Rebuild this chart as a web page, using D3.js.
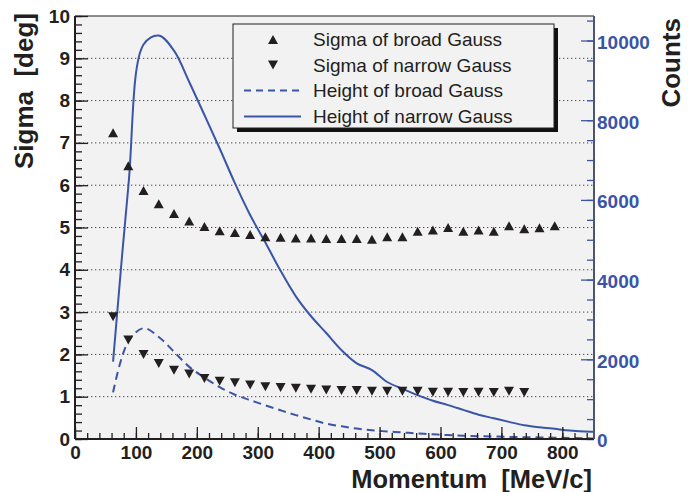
<!DOCTYPE html>
<html><head><meta charset="utf-8">
<script src="https://cdn.jsdelivr.net/npm/d3@7"></script>
<style>
body{margin:0;background:#fff}
svg{display:block}
text{font-family:"Liberation Sans",Arial,Helvetica,sans-serif}
</style>
</head><body><svg id="c" width="688" height="492"></svg>
<script>
// ---- data ----
const momentum = [62.5, 87.5, 112.5, 137.5, 162.5, 187.5, 212.5, 237.5, 262.5, 287.5,
  312.5, 337.5, 362.5, 387.5, 412.5, 437.5, 462.5, 487.5, 512.5, 537.5,
  562.5, 587.5, 612.5, 637.5, 662.5, 687.5, 712.5, 737.5, 762.5, 787.5,
  812.5, 837.5, 862.5];
const sigmaBroad = [7.24, 6.46, 5.87, 5.56, 5.33, 5.15, 5.02, 4.92, 4.88, 4.83,
  4.78, 4.77, 4.75, 4.75, 4.74, 4.74, 4.74, 4.72, 4.78, 4.78,
  4.91, 4.94, 5.00, 4.91, 4.94, 4.91, 5.04, 4.97, 4.99, 5.04];
const sigmaNarrow = [2.89, 2.34, 2.00, 1.79, 1.63, 1.54, 1.43, 1.37, 1.33, 1.28,
  1.24, 1.22, 1.20, 1.18, 1.16, 1.15, 1.15, 1.13, 1.13, 1.13,
  1.13, 1.11, 1.11, 1.10, 1.11, 1.10, 1.13, 1.10];
const heightBroad = [1170, 2450, 2780, 2560, 2190, 1810, 1540, 1300, 1110, 975,
  845, 720, 600, 490, 385, 320, 262, 217, 190, 165,
  140, 119, 98, 80, 70, 62, 53, 46, 40, 33,
  26, 17, 12];
const heightNarrow = [1940, 6330, 9900, 10125, 9745, 8960, 8130, 7290, 6420, 5620,
  4930, 4220, 3580, 3080, 2660, 2230, 1900, 1730, 1430, 1260,
  1100, 960, 850, 730, 610, 520, 430, 345, 295, 255,
  215, 190, 172];
const sigmaTicks = [0,1,2,3,4,5,6,7,8,9,10];
const momentumTicks = [0,100,200,300,400,500,600,700,800];
const countTicks = [0,2000,4000,6000,8000,10000];
const legendLabels = ["Sigma of broad Gauss","Sigma of narrow Gauss","Height of broad Gauss","Height of narrow Gauss"];

// ---- layout ----
const L=75, R=594, T=16, B=439;
const BLUE="#3a55a5", INK="#231f20", BG="#f2f2f2";
const x = d3.scaleLinear().domain([0,852]).range([L,R]);
const yS = d3.scaleLinear().domain([0,10]).range([B,T]);
const yC = d3.scaleLinear().domain([0,10615]).range([B,T]);

const svg = d3.select("#c");
svg.append("rect").attr("x",L).attr("y",T).attr("width",R-L).attr("height",B-T).attr("fill",BG);

// grid
svg.append("g").selectAll("line").data(sigmaTicks.filter(d=>d>0&&d<10)).join("line")
  .attr("x1",L).attr("x2",R).attr("y1",d=>yS(d)).attr("y2",d=>yS(d))
  .attr("stroke","#444").attr("stroke-width",1).attr("stroke-dasharray","1.3,2.7");

// clip
svg.append("clipPath").attr("id","pc").append("rect").attr("x",L).attr("y",T).attr("width",R-L).attr("height",B-T);

// curves
const lineC = d3.line().x((d,i)=>x(momentum[i])).y(d=>yC(d)).curve(d3.curveCatmullRom.alpha(0.5));
svg.append("path").attr("clip-path","url(#pc)").attr("d",lineC(heightBroad))
  .attr("fill","none").attr("stroke",BLUE).attr("stroke-width",2).attr("stroke-dasharray","8,5");
svg.append("path").attr("clip-path","url(#pc)").attr("d",lineC(heightNarrow))
  .attr("fill","none").attr("stroke",BLUE).attr("stroke-width",2);

// markers
const triUp = {draw(c){c.moveTo(0,-4.6);c.lineTo(5,4.4);c.lineTo(-5,4.4);c.closePath();}};
const triDn = {draw(c){c.moveTo(0,4.6);c.lineTo(5,-4.4);c.lineTo(-5,-4.4);c.closePath();}};
svg.append("g").selectAll("path").data(sigmaBroad).join("path")
  .attr("d",d3.symbol().type(triUp)()).attr("fill",INK)
  .attr("transform",(d,i)=>`translate(${x(momentum[i])},${yS(d)})`);
svg.append("g").selectAll("path").data(sigmaNarrow).join("path")
  .attr("d",d3.symbol().type(triDn)()).attr("fill",INK)
  .attr("transform",(d,i)=>`translate(${x(momentum[i])},${yS(d)})`);

// axes
function style(g,color){
  g.select(".domain").remove();
  g.selectAll("line").attr("stroke",color).attr("stroke-width",1.3);
  g.selectAll("text").attr("fill",color).attr("font-size",19).attr("font-weight","bold");
}
const minorS = d3.range(0,10.001,0.2);
svg.append("g").attr("transform",`translate(${L},0)`)
  .call(d3.axisLeft(yS).tickValues(minorS).tickSizeInner(-7).tickSizeOuter(0).tickFormat(""))
  .call(g=>style(g,INK));
svg.append("g").attr("transform",`translate(${L},0)`)
  .call(d3.axisLeft(yS).tickValues(sigmaTicks).tickSizeInner(-13).tickSizeOuter(0).tickPadding(5).tickFormat(d3.format("d")))
  .call(g=>style(g,INK));

const minorX = d3.range(0,841,20);
svg.append("g").attr("transform",`translate(0,${B})`)
  .call(d3.axisBottom(x).tickValues(minorX).tickSizeInner(-6).tickSizeOuter(0).tickFormat(""))
  .call(g=>style(g,INK));
svg.append("g").attr("transform",`translate(0,${B})`)
  .call(d3.axisBottom(x).tickValues(momentumTicks).tickSizeInner(-12).tickSizeOuter(0).tickPadding(7).tickFormat(d3.format("d")))
  .call(g=>style(g,INK));

const minorC = d3.range(0,10501,500);
svg.append("g").attr("transform",`translate(${R},0)`)
  .call(d3.axisRight(yC).tickValues(minorC).tickSizeInner(-7).tickSizeOuter(0).tickFormat(""))
  .call(g=>style(g,BLUE));
svg.append("g").attr("transform",`translate(${R},0)`)
  .call(d3.axisRight(yC).tickValues(countTicks).tickSizeInner(-13).tickSizeOuter(0).tickPadding(3).tickFormat(d3.format("d")))
  .call(g=>style(g,BLUE))
  .call(g=>g.selectAll("text").attr("dy","0.42em"));

// frame
svg.append("line").attr("x1",L).attr("x2",R).attr("y1",T).attr("y2",T).attr("stroke",INK).attr("stroke-width",1.2);
svg.append("line").attr("x1",L).attr("x2",L).attr("y1",T).attr("y2",B).attr("stroke",INK).attr("stroke-width",2);
svg.append("line").attr("x1",L).attr("x2",R).attr("y1",B).attr("y2",B).attr("stroke",INK).attr("stroke-width",2);
svg.append("line").attr("x1",R).attr("x2",R).attr("y1",T).attr("y2",B).attr("stroke","#4d5670").attr("stroke-width",2);

// axis titles
svg.append("text").attr("transform","translate(33,13) rotate(-90)").attr("text-anchor","end")
  .attr("font-size",26).attr("font-weight","bold").attr("fill",INK).attr("xml:space","preserve").text("Sigma  [deg]");
svg.append("text").attr("transform","translate(680,18) rotate(-90)").attr("text-anchor","end")
  .attr("font-size",26).attr("font-weight","bold").attr("fill",INK).text("Counts");
svg.append("text").attr("x",592).attr("y",488).attr("text-anchor","end")
  .attr("font-size",25.5).attr("font-weight","bold").attr("fill",INK).attr("xml:space","preserve").text("Momentum  [MeV/c]");

// legend
const lg = svg.append("g");
lg.append("rect").attr("x",237).attr("y",28).attr("width",321).attr("height",104).attr("fill","#111");
lg.append("rect").attr("x",233).attr("y",24).attr("width",321).attr("height",104).attr("fill",BG).attr("stroke",INK).attr("stroke-width",1);
const rowY = [39.5, 65, 90.5, 116.5];
lg.selectAll("text").data(legendLabels).join("text")
  .attr("x",313).attr("y",(d,i)=>rowY[i]+6.8).attr("font-size",19).attr("fill",INK).text(d=>d);
lg.append("path").attr("d",d3.symbol().type(triUp)()).attr("fill",INK).attr("transform",`translate(273,${rowY[0]})`);
lg.append("path").attr("d",d3.symbol().type(triDn)()).attr("fill",INK).attr("transform",`translate(273,${rowY[1]})`);
lg.append("line").attr("x1",244).attr("x2",301).attr("y1",rowY[2]).attr("y2",rowY[2])
  .attr("stroke",BLUE).attr("stroke-width",2).attr("stroke-dasharray","7,5");
lg.append("line").attr("x1",244).attr("x2",301).attr("y1",rowY[3]).attr("y2",rowY[3])
  .attr("stroke",BLUE).attr("stroke-width",2);
</script>
</body></html>
